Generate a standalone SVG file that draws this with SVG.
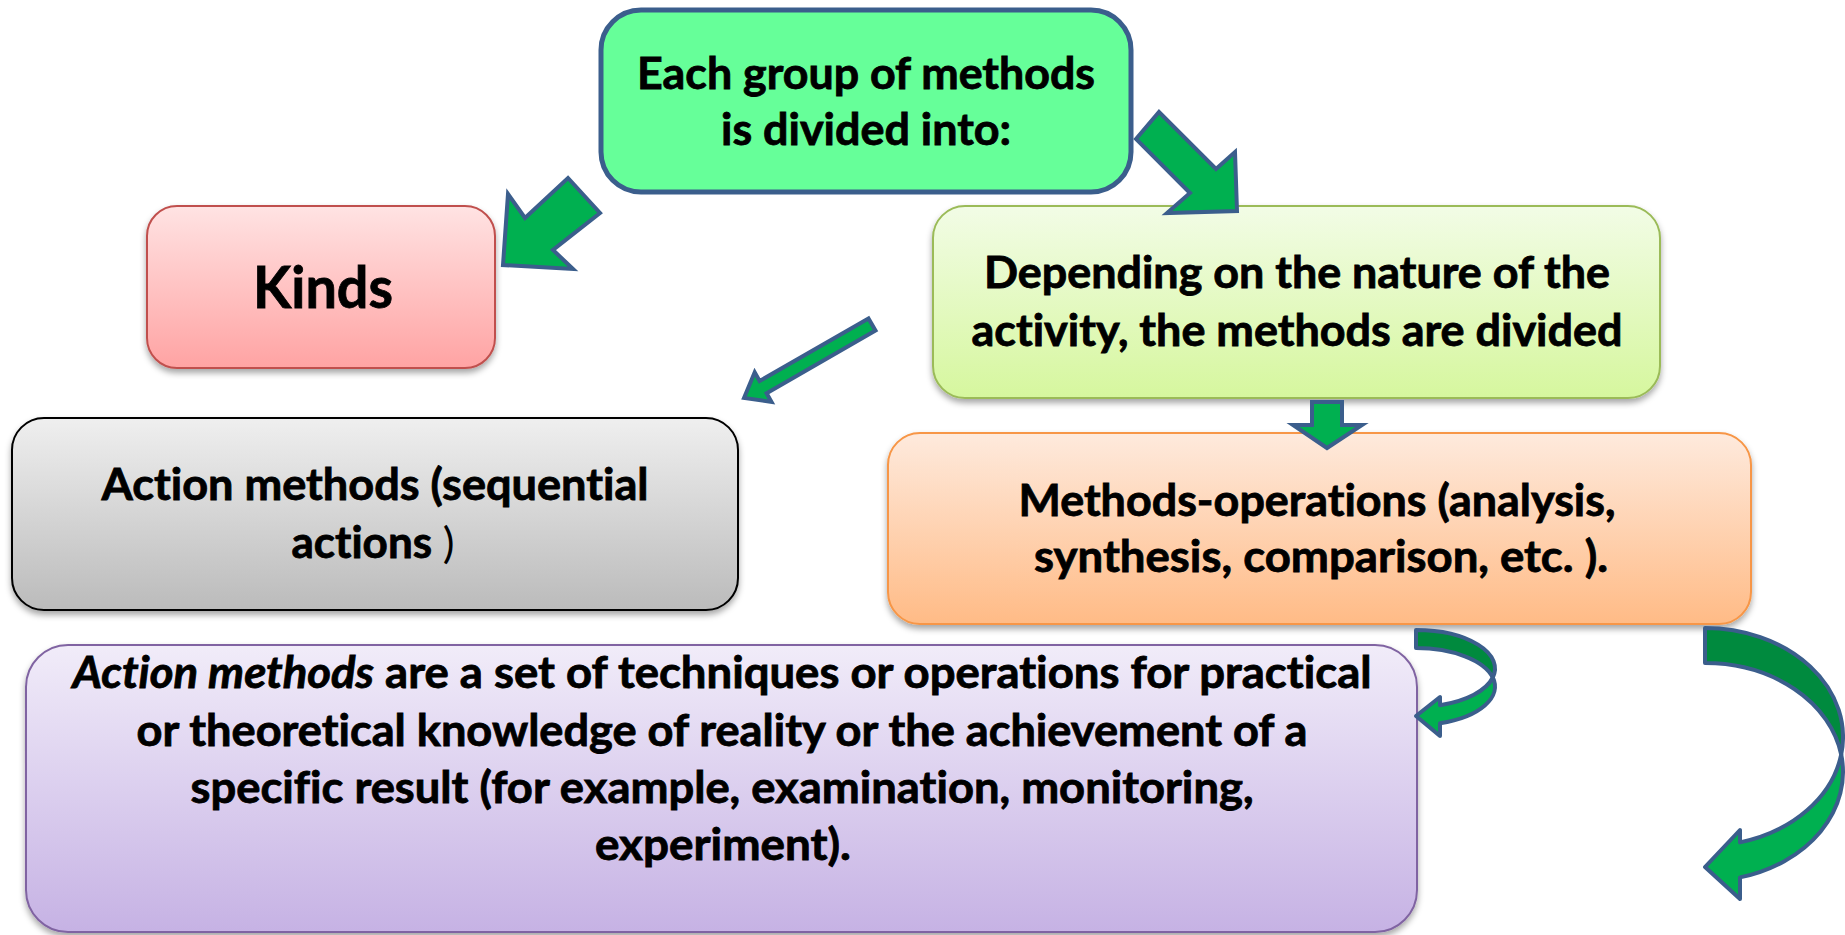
<svg xmlns="http://www.w3.org/2000/svg" width="1845" height="935" viewBox="0 0 1845 935">
  <defs>
    <linearGradient id="gPink" x1="0" y1="0" x2="0" y2="1">
      <stop offset="0" stop-color="#FFE3E3"/>
      <stop offset="1" stop-color="#FFA3A3"/>
    </linearGradient>
    <linearGradient id="gLime" x1="0" y1="0" x2="0" y2="1">
      <stop offset="0" stop-color="#F2FCE6"/>
      <stop offset="1" stop-color="#D6F79E"/>
    </linearGradient>
    <linearGradient id="gGray" x1="0" y1="0" x2="0" y2="1">
      <stop offset="0" stop-color="#EFEFEF"/>
      <stop offset="1" stop-color="#BBBBBB"/>
    </linearGradient>
    <linearGradient id="gOrange" x1="0" y1="0" x2="0" y2="1">
      <stop offset="0" stop-color="#FEEADD"/>
      <stop offset="1" stop-color="#FFBB86"/>
    </linearGradient>
    <linearGradient id="gPurple" x1="0" y1="0" x2="0" y2="1">
      <stop offset="0" stop-color="#F1ECF9"/>
      <stop offset="1" stop-color="#C6B2E4"/>
    </linearGradient>
    <filter id="shadow" x="-5%" y="-5%" width="110%" height="125%">
      <feGaussianBlur in="SourceAlpha" stdDeviation="3"/>
      <feOffset dy="4" result="blur"/>
      <feFlood flood-color="#000" flood-opacity="0.35"/>
      <feComposite in2="blur" operator="in"/>
      <feMerge>
        <feMergeNode/>
        <feMergeNode in="SourceGraphic"/>
      </feMerge>
    </filter>
  </defs>
  <style>
    text { font-family: Lato, "Liberation Sans", sans-serif; font-weight: 700; fill: #000; stroke: #000; stroke-width: 0.8; text-anchor: middle; font-size: 43px; font-variant-ligatures: none; font-feature-settings: "liga" 0, "clig" 0; }
    .big { font-size: 57px; }
    .thin { font-weight: 400; stroke-width: 0; }
    .arrow { fill: #00B050; stroke: #3B5E8C; stroke-width: 4; stroke-linejoin: miter; }
    .back { fill: #008A3E; stroke: #3B5E8C; stroke-width: 4; stroke-linejoin: round; }
    .front { fill: #00B050; stroke: #3B5E8C; stroke-width: 4; stroke-linejoin: round; }
  </style>

  <rect width="1845" height="935" fill="#FFFFFF"/>

  <!-- root: each group of methods -->
  <g id="node-groups">
    <rect x="601" y="10" width="530" height="182" rx="40" fill="#66FF99" stroke="#3B5E8C" stroke-width="5"/>
    <text x="866" y="89" textLength="458" lengthAdjust="spacingAndGlyphs">Each group of methods</text>
    <text x="866" y="145" textLength="290" lengthAdjust="spacingAndGlyphs">is divided into:</text>
  </g>

  <g id="node-kinds">
    <rect x="147" y="206" width="348" height="162" rx="30" fill="url(#gPink)" stroke="#C0504D" stroke-width="2" filter="url(#shadow)"/>
    <text class="big" x="323" y="308" textLength="140" lengthAdjust="spacingAndGlyphs">Kinds</text>
  </g>

  <g id="node-activity">
    <rect x="933" y="206" width="727" height="192" rx="32" fill="url(#gLime)" stroke="#9BBB59" stroke-width="2" filter="url(#shadow)"/>
    <text x="1297" y="288" textLength="626" lengthAdjust="spacingAndGlyphs">Depending on the nature of the</text>
    <text x="1297" y="346" textLength="651" lengthAdjust="spacingAndGlyphs">activity, the methods are divided</text>
  </g>

  <g id="node-action">
    <rect x="12" y="418" width="726" height="192" rx="32" fill="url(#gGray)" stroke="#000" stroke-width="2" filter="url(#shadow)"/>
    <text x="375" y="500" textLength="547" lengthAdjust="spacingAndGlyphs">Action methods (sequential</text>
    <text x="373" y="558" textLength="163" lengthAdjust="spacingAndGlyphs">actions <tspan class="thin">)</tspan></text>
  </g>

  <g id="node-operations">
    <rect x="888" y="433" width="863" height="191" rx="32" fill="url(#gOrange)" stroke="#F79646" stroke-width="2" filter="url(#shadow)"/>
    <text x="1317" y="516" textLength="597" lengthAdjust="spacingAndGlyphs">Methods-operations (analysis,</text>
    <text x="1321" y="572" textLength="574" lengthAdjust="spacingAndGlyphs">synthesis, comparison, etc. ).</text>
  </g>

  <g id="node-definition">
    <rect x="26" y="645" width="1391" height="287" rx="42" fill="url(#gPurple)" stroke="#8064A2" stroke-width="2" filter="url(#shadow)"/>
    <text x="722" y="688" textLength="1299" lengthAdjust="spacingAndGlyphs"><tspan font-style="italic">Action methods</tspan> are a set of techniques or operations for practical</text>
    <text x="722" y="746" textLength="1171" lengthAdjust="spacingAndGlyphs">or theoretical knowledge of reality or the achievement of a</text>
    <text x="722" y="803" textLength="1063" lengthAdjust="spacingAndGlyphs">specific result (for example, examination, monitoring,</text>
    <text x="723" y="860" textLength="256" lengthAdjust="spacingAndGlyphs">experiment).</text>
  </g>

  <g id="connectors">
    <!-- to Kinds -->
    <polygon class="arrow" points="503,265 508,194 525,218 568,178 600,213 553,250 573,269"/>
    <!-- to the activity box -->
    <polygon class="arrow" points="1136,139 1159,112 1216,169 1235,152 1237,211 1167,213 1190,193"/>
    <!-- to action methods -->
    <polygon class="arrow" points="744,398 754.7,372.3 759.6,381 868.5,318.4 875.5,330.6 766.6,393.2 771.5,401.9"/>
    <!-- down to methods-operations -->
    <polygon class="arrow" points="1312,402 1342,402 1342,425 1362,425 1327,448 1293,425 1312,425"/>

    <!-- small curved arrow -->
    <path class="back" d="M1416,630 A79,38.5 0 0 1 1492.8,677.5 A79,38.5 0 0 0 1416,648 Z"/>
    <path class="front" d="M1492.8,677.5 A79,38.5 0 0 1 1440,723.2 L1440,736 L1416,716 L1440,697 L1440,705.2 A79,38.5 0 0 0 1492.8,677.5 Z"/>

    <!-- large curved arrow -->
    <path class="back" d="M1705,628 A138,109 0 0 1 1841.2,754.5 A138,109 0 0 0 1705,663 Z"/>
    <path class="front" d="M1841.2,754.5 A138,109 0 0 1 1740,877.4 L1740,899 L1705,867 L1740,830 L1740,842.4 A138,109 0 0 0 1841.2,754.5 Z"/>
  </g>
</svg>
